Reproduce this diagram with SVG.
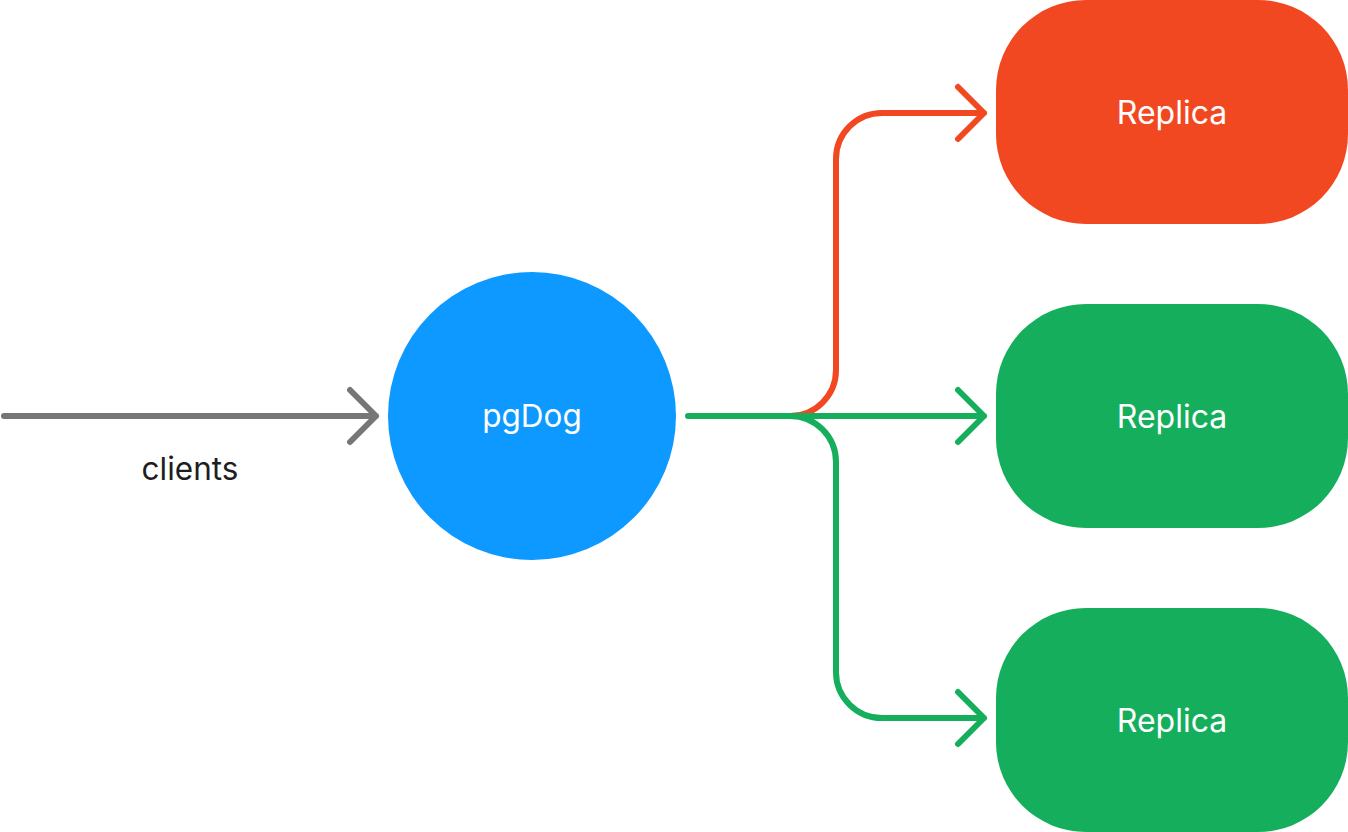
<svg xmlns="http://www.w3.org/2000/svg" width="1348" height="832" viewBox="0 0 1348 832">
<style>
.lbl{font-family:Inter,"Liberation Sans",sans-serif;font-size:32px;fill:#fff;text-anchor:middle}
.conn{fill:none;stroke-width:6;stroke-linecap:round;stroke-linejoin:round}
.red{stroke:#F24822}
.green{stroke:#14AE5C}
.gray{stroke:#767676}
</style>
<rect width="1348" height="832" fill="#fff"/>
<g id="connectors">
<path class="conn gray" d="M4 416H376M350 390L376 416L350 442"/>
<path class="conn red" d="M790 416A46 46 0 0 0 836 370V159A46 46 0 0 1 882 113H984M958 87L984 113L958 139"/>
<path class="conn green" d="M790 416A46 46 0 0 1 836 462V672A46 46 0 0 0 882 718H984M958 692L984 718L958 744"/>
<path class="conn green" d="M688 416H984M958 390L984 416L958 442"/>
<text x="190" y="480" font-family="Inter,'Liberation Sans',sans-serif" font-size="31.5" fill="#1e1e1e" text-anchor="middle">clients</text>
</g>
<g id="pgdog">
<circle cx="532" cy="416" r="144" fill="#0D99FF"/>
<text class="lbl" x="532" y="427" style="font-size:31.5px">pgDog</text>
</g>
<g id="replica1">
<rect x="996" y="0" width="352" height="224" rx="90" fill="#F24822"/>
<text class="lbl" x="1172" y="124">Replica</text>
</g>
<g id="replica2">
<rect x="996" y="304" width="352" height="224" rx="90" fill="#14AE5C"/>
<text class="lbl" x="1172" y="428">Replica</text>
</g>
<g id="replica3">
<rect x="996" y="608" width="352" height="224" rx="90" fill="#14AE5C"/>
<text class="lbl" x="1172" y="732">Replica</text>
</g>
</svg>
